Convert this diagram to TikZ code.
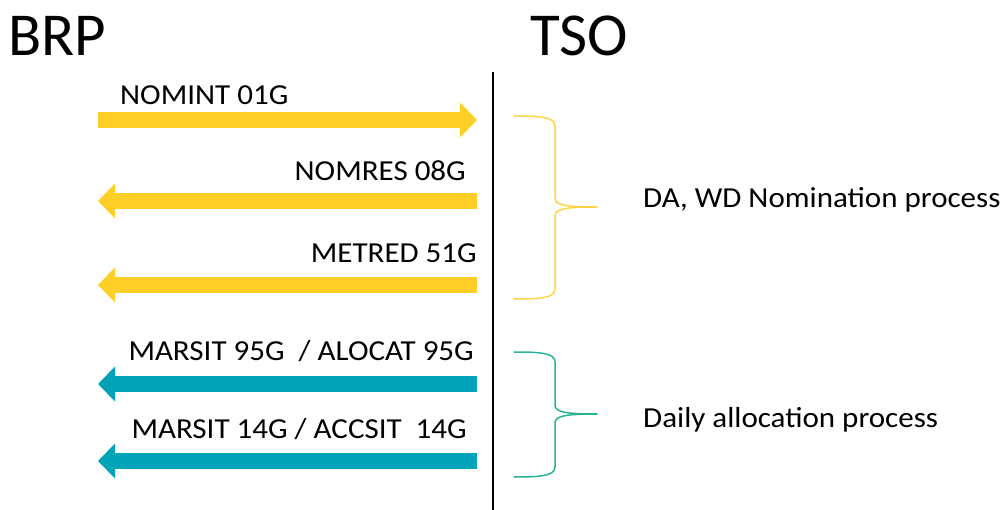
\documentclass[tikz,border=0pt]{standalone}
\usepackage{fontspec}
\setmainfont{Carlito}
\newfontfamily\lblfont[FakeStretch=1.07]{Carlito}
\usetikzlibrary{arrows.meta,calc}

\definecolor{msggold}{RGB}{255,207,39}
\definecolor{msgteal}{RGB}{0,163,184}
\definecolor{bracegold}{RGB}{255,212,70}
\definecolor{braceteal}{RGB}{40,178,150}

\tikzset{
  msg/.style={line width=16pt, -{Triangle[length=17pt,width=34pt]}},
  lbl/.style={inner sep=0pt, font=\lblfont\fontsize{29}{34}\selectfont},
  party/.style={inner sep=0pt, font=\fontsize{61}{70}\selectfont},
  brace/.style={line width=1.5pt, line cap=round, line join=round},
}

\begin{document}
\begin{tikzpicture}[x=1pt,y=-1pt]
  \useasboundingbox (0,0) rectangle (1001,510);

  % parties
  \node[party, anchor=base west] (brp) at (8,56) {BRP};
  \node[party, anchor=base west] (tso) at (530,56) {TSO};
  \coordinate(Ltop) at (493,72);
  \coordinate(Lbot) at (493,510);
  \draw[line width=1.5pt] (Ltop) -- (Lbot);

  % message ends
  \coordinate(A1) at (98,120);  \coordinate(B1) at (477,120);
  \coordinate(A2) at (98,201);  \coordinate(B2) at (477,201);
  \coordinate(A3) at (98,285);  \coordinate(B3) at (477,285);
  \coordinate(A4) at (98,384);  \coordinate(B4) at (477,384);
  \coordinate(A5) at (98,461);  \coordinate(B5) at (477,461);

\draw[msg, msggold] (A1) -- (B1);
\draw[msg, msggold] (B2) -- (A2);
\draw[msg, msggold] (B3) -- (A3);
\draw[msg, msgteal] (B4) -- (A4);
\draw[msg, msgteal] (B5) -- (A5);

  \node[lbl, anchor=base west] (nomint) at (120,105) {NOMINT 01G};
  \node[lbl, anchor=base east] (nomres) at (466,181) {NOMRES 08G};
  \node[lbl, anchor=base east] (metred) at (477,263) {METRED 51G};
  \node[lbl, anchor=base east] (alocat) at (474,361) {MARSIT 95G\ \ / ALOCAT 95G};
  \node[lbl, anchor=base east] (accsit) at (467,438) {MARSIT 14G / ACCSIT\ \ 14G};

  % braces
\draw[brace, bracegold] (514,116) .. controls (540,116) and (555,117) .. (555,126)
  -- (555,198) .. controls (555,205) and (565,207) .. (597,207)
  .. controls (565,207) and (555,209) .. (555,216)
  -- (555,289) .. controls (555,298) and (540,299) .. (514,299);
\draw[brace, braceteal] (514,352) .. controls (540,352) and (555,353) .. (555,362)
  -- (555,405) .. controls (555,412) and (565,414) .. (597,414)
  .. controls (565,414) and (555,416) .. (555,423)
  -- (555,467) .. controls (555,476) and (540,477) .. (514,477);

  \node[lbl, anchor=base west] (nomproc) at (643,208) {DA, WD Nomination process};
  \node[lbl, anchor=base west] (allproc) at (643,427) {Daily allocation process};
\end{tikzpicture}
\end{document}
